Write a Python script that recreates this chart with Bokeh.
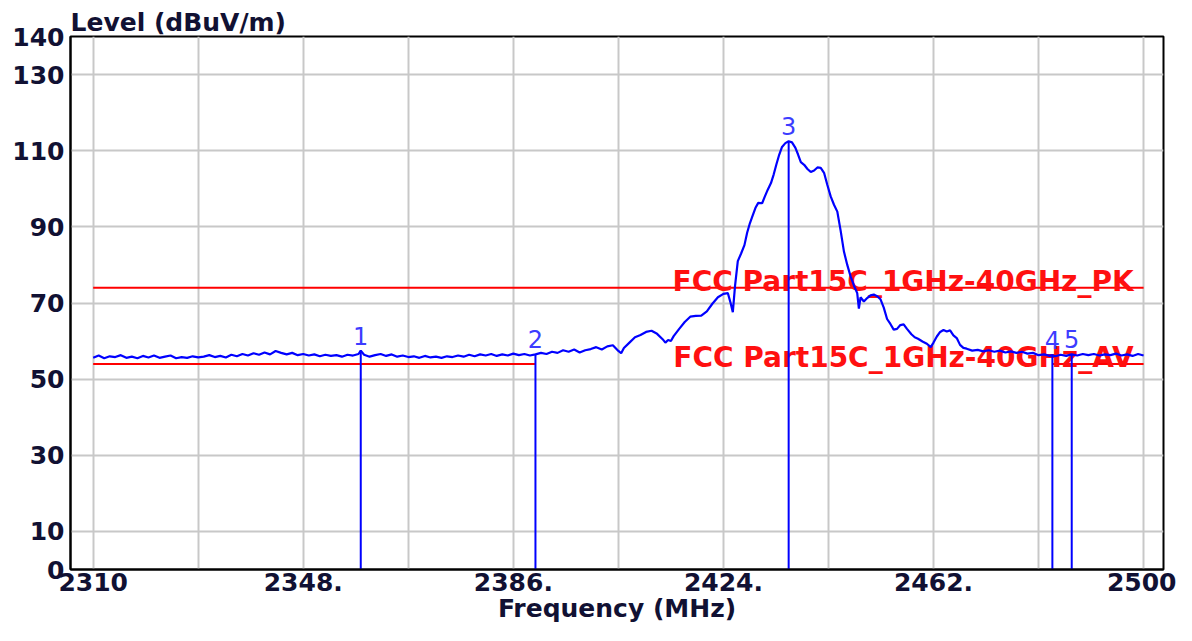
from bokeh.plotting import figure
from bokeh.models import Range1d, FixedTicker
from bokeh.core.properties import value
from bokeh.embed import file_html
from bokeh.resources import INLINE

# ---- data ----
freq = [2310, 2311, 2312, 2313, 2314, 2315, 2316, 2317, 2318, 2319,
        2320, 2321, 2322, 2323, 2324, 2325, 2326, 2327, 2328, 2329,
        2330, 2331, 2332, 2333, 2334, 2335, 2336, 2337, 2338, 2339,
        2340, 2341, 2342, 2343, 2344, 2345, 2346, 2347, 2348, 2349,
        2350, 2351, 2352, 2353, 2354, 2355, 2356, 2357, 2358, 2358.4, 2359,
        2360, 2361, 2362, 2363, 2364, 2365, 2366, 2367, 2368, 2369,
        2370, 2371, 2372, 2373, 2374, 2375, 2376, 2377, 2378, 2379,
        2380, 2381, 2382, 2383, 2384, 2385, 2386, 2387, 2388, 2389,
        2390, 2391, 2392, 2393, 2394, 2395, 2396, 2397, 2398, 2399,
        2400, 2401, 2402, 2403, 2404, 2405, 2405.5, 2406, 2407, 2408, 2409,
        2410, 2411, 2412, 2413, 2413.5, 2414, 2414.5, 2415, 2416, 2417, 2418, 2419,
        2420, 2421, 2422, 2423, 2424, 2424.8, 2425.3, 2425.7, 2426.1, 2426.6,
        2427.2, 2427.8, 2428.3, 2428.8, 2429.3, 2429.8, 2430.3, 2431.0, 2431.5,
        2432.0, 2432.6, 2433.1, 2433.6, 2434.1, 2434.6, 2435.2, 2435.8, 2436.4,
        2437.0, 2437.5, 2438.0, 2438.6, 2439.2, 2439.8, 2440.4, 2441.0, 2441.6,
        2442.2, 2442.8, 2443.4, 2444.0, 2444.6, 2445.2, 2445.8, 2446.4, 2447.0,
        2447.6, 2448.2, 2448.5, 2448.8, 2449.4, 2450.0, 2450.6, 2451.2, 2451.8,
        2452.4, 2453.0, 2453.6, 2454.2, 2454.8, 2455.4, 2456.0, 2456.6, 2457.2,
        2458.0, 2458.6, 2459.2, 2460.0, 2460.8, 2461.5, 2462.0, 2462.6, 2463.2,
        2463.8, 2464.4, 2465.0, 2465.6, 2466.2, 2466.8, 2467.4, 2468, 2469,
        2470, 2471, 2472, 2473, 2474, 2475, 2476, 2477, 2478, 2479,
        2480, 2481, 2482, 2483, 2483.5, 2484, 2485, 2486, 2487, 2488, 2489,
        2490, 2491, 2492, 2493, 2494, 2495, 2496, 2497, 2498, 2499, 2500]
level = [55.6, 56.2, 55.5, 56.0, 55.8, 56.3, 55.6, 55.9, 55.5, 56.1,
         55.7, 56.2, 55.6, 55.9, 56.2, 55.5, 55.8, 55.6, 56.0, 55.7,
         55.9, 56.3, 55.8, 56.1, 55.7, 56.4, 56.0, 56.6, 56.2, 56.8,
         56.4, 57.0, 56.5, 57.4, 56.9, 56.5, 56.9, 56.3, 56.6, 56.2,
         56.5, 56.0, 56.4, 56.1, 56.3, 55.9, 56.4, 56.2, 56.6, 57.5, 56.4,
         55.9, 56.3, 56.6, 56.1, 56.5, 55.9, 56.2, 55.8, 56.0, 55.6,
         56.1, 55.7, 55.9, 55.6, 56.0, 55.8, 56.2, 55.9, 56.4, 56.0,
         56.5, 56.2, 56.6, 56.1, 56.5, 56.2, 56.7, 56.3, 56.6, 56.2,
         56.5, 56.9, 56.6, 57.2, 56.9, 57.6, 57.2, 57.8, 57.0, 57.6,
         57.9, 58.4, 57.8, 58.6, 58.9, 57.4, 56.8, 58.2, 59.6, 61.0, 61.6,
         62.4, 62.7, 61.9, 60.5, 59.6, 60.3, 60.0, 61.3, 63.2, 65.0, 66.4, 66.6,
         66.7, 67.8, 69.8, 71.5, 72.4, 72.6, 70.0, 67.6, 74.5, 81.0,
         83.0, 85.2, 88.5, 91.0, 93.0, 95.0, 96.3, 96.2, 98.0,
         99.7, 101.5, 103.8, 106.5, 109.0, 111.0, 112.0, 112.5, 112.2,
         110.8, 109.0, 107.0, 106.3, 105.2, 104.4, 104.8, 105.6, 105.5,
         104.2, 101.0, 98.0, 95.8, 94.0, 89.0, 83.5, 80.0, 77.0,
         74.6, 72.6, 68.5, 71.5, 70.4, 71.3, 72.0, 72.2, 71.8,
         71.0, 68.8, 65.8, 64.5, 63.0, 63.2, 64.2, 64.4, 63.2,
         61.8, 61.0, 60.6, 59.9, 59.3, 58.4, 59.6, 61.2, 62.4,
         62.9, 62.5, 62.8, 61.5, 60.8, 59.0, 58.2, 58.0, 57.5,
         57.7, 57.3, 57.6, 57.2, 57.5, 57.0, 57.3, 56.9, 57.2, 56.7,
         56.9, 56.3, 56.5, 56.1, 56.3, 56.0, 56.4, 56.1, 56.5, 56.2, 56.6,
         56.3, 56.6, 56.2, 56.5, 56.3, 56.7, 56.2, 56.5, 56.1, 56.6, 56.2]

marker_freq = [2358.4, 2390.0, 2435.8, 2483.5, 2487.0]
marker_level = [57.5, 56.5, 112.5, 56.3, 56.5]
marker_names = ["1", "2", "3", "4", "5"]

pk_limit = 74.0
av_limit = 54.0
pk_start, pk_end = 2310, 2500
av_start = [2310, 2483.5]
av_end = [2390, 2500]
pk_name = "FCC Part15C_1GHz-40GHz_PK"
av_name = "FCC Part15C_1GHz-40GHz_AV"

x_ticks = [2310, 2348, 2386, 2424, 2462, 2500]
x_tick_labels = ["2310", "2348.", "2386.", "2424.", "2462.", "2500"]
x_grid = [2310, 2329, 2348, 2367, 2386, 2405, 2424, 2443, 2462, 2481, 2500]
y_ticks = [0, 10, 30, 50, 70, 90, 110, 130, 140]

FONT = "DejaVu Sans"
DARK = "#111133"

p = figure(width=1176, height=625, output_backend="svg", toolbar_location=None,
           x_range=Range1d(2305.9, 2503.6), y_range=Range1d(0, 140),
           min_border_left=70, min_border_right=13, min_border_top=36,
           min_border_bottom=50, title="Level (dBuV/m)")
p.background_fill_color = "white"
p.border_fill_color = "white"
p.outline_line_color = "black"
p.outline_line_width = 2

p.title.text_font = FONT
p.title.text_font_size = "25px"
p.title.text_font_style = "bold"
p.title.text_color = DARK
p.title.standoff = 0
p.title.align = "left"

p.xaxis.ticker = FixedTicker(ticks=x_ticks)
p.xaxis.major_label_overrides = dict(zip(x_ticks, x_tick_labels))
p.yaxis.ticker = FixedTicker(ticks=y_ticks)
p.xgrid.ticker = FixedTicker(ticks=x_grid)
p.ygrid.ticker = FixedTicker(ticks=y_ticks)
for g in (p.xgrid, p.ygrid):
    g.grid_line_color = "#c8c8c8"
    g.grid_line_width = 2

for ax in (p.xaxis, p.yaxis):
    ax.axis_line_color = "black"
    ax.axis_line_width = 2
    ax.major_tick_in = 0
    ax.major_tick_out = 0
    ax.minor_tick_in = 0
    ax.minor_tick_out = 0
    ax.major_label_text_font = FONT
    ax.major_label_text_font_size = "25px"
    ax.major_label_text_font_style = "bold"
    ax.major_label_text_color = DARK
p.yaxis.major_label_standoff = 6
p.xaxis.major_label_standoff = 3
p.xaxis.axis_label = "Frequency (MHz)"
p.xaxis.axis_label_text_font = FONT
p.xaxis.axis_label_text_font_size = "25px"
p.xaxis.axis_label_text_font_style = "bold"
p.xaxis.axis_label_text_color = DARK
p.xaxis.axis_label_standoff = 0

# limit lines
p.segment(x0=[pk_start], y0=[pk_limit], x1=[pk_end], y1=[pk_limit],
          line_color="#ff0000", line_width=2)
p.segment(x0=av_start, y0=[av_limit] * len(av_start), x1=av_end,
          y1=[av_limit] * len(av_end), line_color="#ff0000", line_width=2)
p.text(x=[pk_end, pk_end], y=[pk_limit, av_limit], text=[pk_name, av_name],
       x_offset=-10, y_offset=-6, text_align="right", text_baseline="alphabetic",
       text_font=value(FONT), text_font_size="28px", text_font_style="bold",
       text_color="#ff1010")

# trace
p.line(freq, level, line_color="#0000ff", line_width=2.2)

# markers
p.segment(x0=marker_freq, y0=[0] * len(marker_freq), x1=marker_freq,
          y1=marker_level, line_color="#0000ff", line_width=2)
p.text(x=marker_freq, y=marker_level, text=marker_names, y_offset=-6,
       text_align="center", text_baseline="bottom", text_font=value(FONT),
       text_font_size="24px", text_color="#3c3cff")

open("out.html", "w").write(file_html(p, INLINE))
